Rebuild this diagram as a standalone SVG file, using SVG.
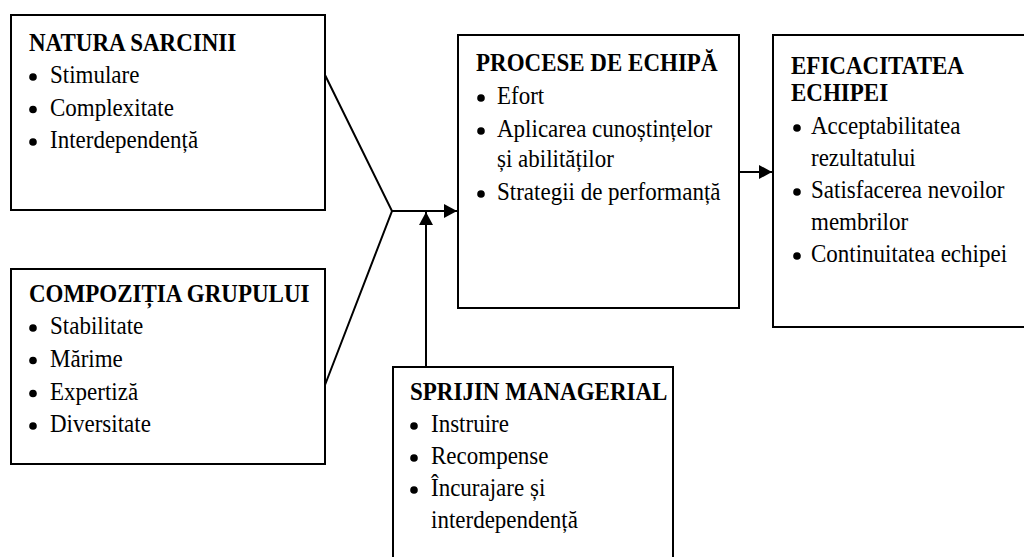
<svg xmlns="http://www.w3.org/2000/svg" width="1024" height="557" viewBox="0 0 1024 557">
<style>
.box{fill:#fff;stroke:#000;stroke-width:2}
.t{font-family:"Liberation Serif","Times New Roman",serif;font-size:25px;fill:#000}
.h{font-weight:bold}
.b{fill:#000}
.c{stroke:#000;stroke-width:2;fill:none}
</style>
<defs>
<marker id="ah" markerWidth="14" markerHeight="14" refX="13" refY="7" orient="auto" markerUnits="userSpaceOnUse">
<path d="M0,0 L13,7 L0,14 Z" fill="#000"/>
</marker>
</defs>
<rect width="1024" height="557" fill="#fff"/>
<g id="connectors">
<path class="c" d="M325,75 L392,211 L325,385"/>
<line class="c" x1="392" y1="211" x2="457" y2="211" marker-end="url(#ah)"/>
<line class="c" x1="426" y1="367" x2="426" y2="212" marker-end="url(#ah)"/>
<line class="c" x1="739" y1="172" x2="772" y2="172" marker-end="url(#ah)"/>
</g>
<g id="natura">
<rect class="box" x="11" y="15" width="314" height="195"/>
<text class="t h" transform="translate(29 51) scale(0.92 1)">NATURA SARCINII</text>
<circle class="b" cx="33" cy="77" r="3.8"/><text class="t" transform="translate(50 83) scale(0.92 1)">Stimulare</text>
<circle class="b" cx="33" cy="109.5" r="3.8"/><text class="t" transform="translate(50 115.5) scale(0.92 1)">Complexitate</text>
<circle class="b" cx="33" cy="142" r="3.8"/><text class="t" transform="translate(50 148) scale(0.92 1)">Interdependență</text>
</g>
<g id="compozitia">
<rect class="box" x="11" y="269" width="314" height="195"/>
<text class="t h" transform="translate(29 302) scale(0.92 1)">COMPOZIȚIA GRUPULUI</text>
<circle class="b" cx="33" cy="328" r="3.8"/><text class="t" transform="translate(50 334) scale(0.92 1)">Stabilitate</text>
<circle class="b" cx="33" cy="360.5" r="3.8"/><text class="t" transform="translate(50 366.5) scale(0.92 1)">Mărime</text>
<circle class="b" cx="33" cy="393.5" r="3.8"/><text class="t" transform="translate(50 399.5) scale(0.92 1)">Expertiză</text>
<circle class="b" cx="33" cy="426" r="3.8"/><text class="t" transform="translate(50 432) scale(0.92 1)">Diversitate</text>
</g>
<g id="procese">
<rect class="box" x="458" y="35" width="281" height="273"/>
<text class="t h" transform="translate(476 71) scale(0.92 1)">PROCESE DE ECHIPĂ</text>
<circle class="b" cx="481" cy="98" r="3.8"/><text class="t" transform="translate(497 104) scale(0.92 1)">Efort</text>
<circle class="b" cx="481" cy="131" r="3.8"/><text class="t" transform="translate(497 137) scale(0.92 1)">Aplicarea cunoștințelor</text>
<text class="t" transform="translate(497 167) scale(0.92 1)">și abilităților</text>
<circle class="b" cx="481" cy="194" r="3.8"/><text class="t" transform="translate(497 200) scale(0.92 1)">Strategii de performanță</text>
</g>
<g id="eficacitatea">
<rect class="box" x="773" y="35" width="260" height="292"/>
<text class="t h" transform="translate(791 74) scale(0.92 1)">EFICACITATEA</text>
<text class="t h" transform="translate(791 101) scale(0.92 1)">ECHIPEI</text>
<circle class="b" cx="797" cy="128" r="3.8"/><text class="t" transform="translate(811 134) scale(0.92 1)">Acceptabilitatea</text>
<text class="t" transform="translate(811 166) scale(0.92 1)">rezultatului</text>
<circle class="b" cx="797" cy="192" r="3.8"/><text class="t" transform="translate(811 198) scale(0.92 1)">Satisfacerea nevoilor</text>
<text class="t" transform="translate(811 230) scale(0.92 1)">membrilor</text>
<circle class="b" cx="797" cy="256" r="3.8"/><text class="t" transform="translate(811 262) scale(0.92 1)">Continuitatea echipei</text>
</g>
<g id="sprijin">
<rect class="box" x="393" y="367" width="280" height="200"/>
<text class="t h" transform="translate(410 400) scale(0.92 1)">SPRIJIN MANAGERIAL</text>
<circle class="b" cx="414" cy="426" r="3.8"/><text class="t" transform="translate(431 432) scale(0.92 1)">Instruire</text>
<circle class="b" cx="414" cy="458" r="3.8"/><text class="t" transform="translate(431 464) scale(0.92 1)">Recompense</text>
<circle class="b" cx="414" cy="490" r="3.8"/><text class="t" transform="translate(431 496) scale(0.92 1)">Încurajare și</text>
<text class="t" transform="translate(431 528) scale(0.92 1)">interdependență</text>
</g>
</svg>
